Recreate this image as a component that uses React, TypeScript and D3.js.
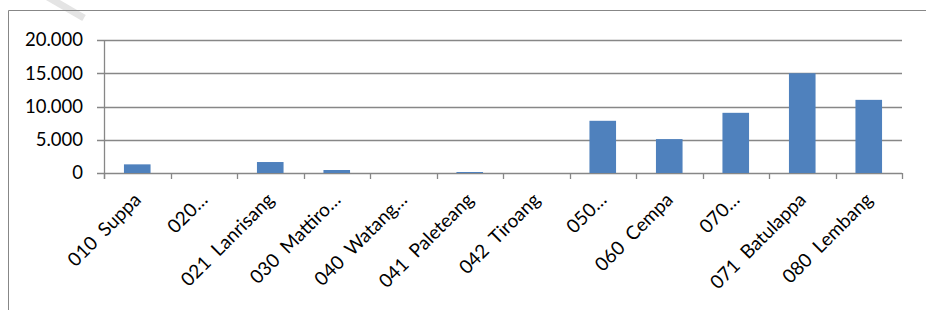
import React from "react";
import * as d3 from "d3";

const categories = [
  "010  Suppa",
  "020…",
  "021  Lanrisang",
  "030  Mattiro…",
  "040  Watang…",
  "041  Paleteang",
  "042  Tiroang",
  "050…",
  "060  Cempa",
  "070…",
  "071  Batulappa",
  "080  Lembang",
];
const values = [1300, 0, 1650, 450, 0, 150, 0, 7850, 5100, 9050, 15000, 11000];
const yTicks = [0, 5000, 10000, 15000, 20000];
const yTickLabels = ["0", "5.000", "10.000", "15.000", "20.000"];

const W = 926;
const H = 310;
const plot = { left: 104, right: 902, top: 40, bottom: 173 };
const FONT = "Lato, 'Open Sans', sans-serif";
const GRID = "#878787";
const BAR = "#4F81BD";

export default function App() {
  const x = d3
    .scaleBand<string>()
    .domain(categories)
    .range([plot.left, plot.right])
    .paddingInner(0.6)
    .paddingOuter(0.3);
  const xc = d3.scaleBand<string>().domain(categories).range([plot.left, plot.right]);
  const y = d3.scaleLinear().domain([0, 20000]).range([plot.bottom, plot.top]);

  const bounds = d3.range(categories.length + 1).map((i) => plot.left + i * xc.step());

  return (
    <svg
      width={W}
      height={H}
      style={{ position: "absolute", left: 0, top: 0, background: "#fff" }}
    >
      <rect x={0} y={0} width={W} height={H} fill="#fff" />
      {/* faint watermark stroke */}
      <line x1={46} y1={-4} x2={84} y2={18} stroke="#e4e4e4" strokeWidth={7} />
      {/* outer frame */}
      <path d={`M8.5,${H + 2} V10.5 H${W + 2}`} fill="none" stroke={GRID} strokeWidth={1} />
      {/* gridlines + y ticks */}
      {yTicks.map((t) => (
        <line
          key={t}
          x1={plot.left - 7}
          x2={plot.right}
          y1={Math.round(y(t)) + 0.5}
          y2={Math.round(y(t)) + 0.5}
          stroke={GRID}
          strokeWidth={1.3}
        />
      ))}
      {/* y axis */}
      <line
        x1={plot.left + 0.5}
        x2={plot.left + 0.5}
        y1={plot.top}
        y2={plot.bottom + 6}
        stroke={GRID}
        strokeWidth={1.3}
      />
      {/* x tick marks */}
      {bounds.map((b, i) => (
        <line
          key={i}
          x1={Math.round(b) + 0.5}
          x2={Math.round(b) + 0.5}
          y1={plot.bottom}
          y2={plot.bottom + 6}
          stroke={GRID}
          strokeWidth={1.3}
        />
      ))}
      {/* bars */}
      {categories.map((c, i) => (
        <rect
          key={c}
          x={x(c)}
          y={y(values[i])}
          width={x.bandwidth()}
          height={plot.bottom - y(values[i])}
          fill={BAR}
        />
      ))}
      {/* y labels */}
      {yTicks.map((t, i) => (
        <text
          key={t}
          x={83}
          y={y(t)}
          dy="0.35em"
          textAnchor="end"
          fontFamily={FONT}
          fontSize={18.5}
          fill="#000"
        >
          {yTickLabels[i]}
        </text>
      ))}
      {/* x labels */}
      {categories.map((c) => {
        const cx = (xc(c) as number) + xc.bandwidth() / 2 + 5;
        const cy = plot.bottom + 28;
        return (
          <text
            key={c}
            transform={`translate(${cx},${cy}) rotate(-45)`}
            textAnchor="end"
            fontFamily={FONT}
            fontSize={19}
            fill="#000"
            style={{ whiteSpace: "pre" }}
          >
            {c}
          </text>
        );
      })}
    </svg>
  );
}
